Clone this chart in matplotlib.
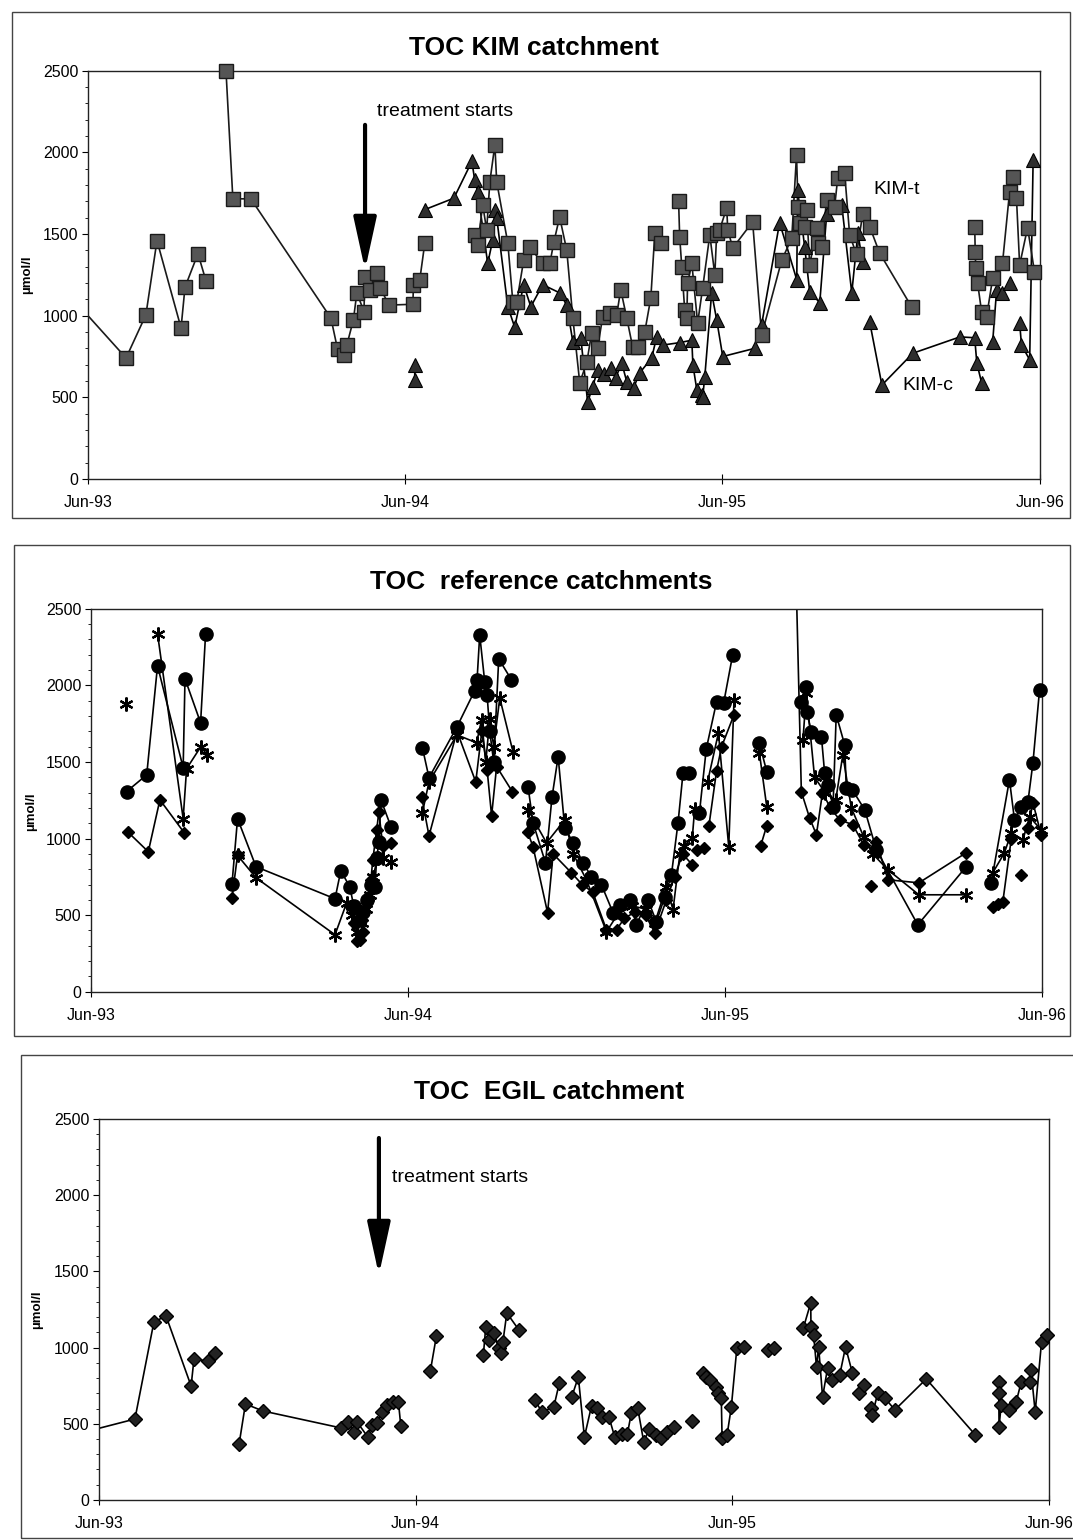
import numpy as np
import matplotlib
matplotlib.use("Agg")
import matplotlib.pyplot as plt
from matplotlib.patches import Rectangle
from matplotlib.ticker import MultipleLocator, FixedLocator

plt.rcParams["font.family"] = ["Liberation Sans", "DejaVu Sans"]

nan = np.nan

# x = months since Jun-93, y = TOC in umol/l ; (nan, nan) breaks a line
tick_pos = [0, 12, 24, 36]
tick_labels = ["Jun-93", "Jun-94", "Jun-95", "Jun-96"]

# --- KIM catchment ---
kim_t = [
    (-0.5, 1090), (1.44, 741), (2.19, 1005), (2.61, 1460), (3.52, 925), (3.67, 1175),
    (4.16, 1380), (4.46, 1215), (nan, nan),
    (5.22, 2500), (5.48, 1716), (6.16, 1716), (9.19, 985), (9.44, 795), (9.67, 757),
    (9.79, 820), (10.04, 975), (10.17, 1140), (10.44, 1025), (10.47, 1240), (10.66, 1160),
    (10.93, 1260), (11.06, 1170), (11.38, 1065), (12.29, 1070), (12.31, 1190),
    (12.55, 1220), (12.74, 1445), (nan, nan),
    (14.63, 1495), (14.74, 1434), (14.93, 1680), (15.08, 1525), (15.20, 1820),
    (15.39, 2046), (15.46, 1820), (15.88, 1445), (16.07, 1085), (16.22, 1085),
    (16.48, 1340), (16.71, 1420), (17.20, 1320), (17.47, 1320), (17.62, 1450),
    (17.84, 1605), (18.11, 1400), (18.34, 985), (18.60, 590), (18.87, 715), (19.05, 895),
    (19.28, 805), (19.47, 995), (19.74, 1015), (20.00, 1005), (20.15, 1160), (20.38, 985),
    (20.60, 810), (20.79, 810), (21.06, 900), (21.29, 1110), (21.44, 1505), (21.66, 1445),
    (nan, nan),
    (22.34, 1700), (22.38, 1485), (22.46, 1300), (22.57, 1035), (22.65, 985), (22.68, 1200),
    (22.84, 1320), (23.06, 955), (23.25, 1170), (23.52, 1495), (23.71, 1250), (23.78, 1505),
    (23.89, 1525), (24.16, 1660), (24.20, 1525), (24.39, 1415), (25.14, 1575), (25.48, 880),
    (26.24, 1340), (26.62, 1475), (26.80, 1985), (26.86, 1665), (26.92, 1570), (27.11, 1545),
    (27.18, 1650), (27.30, 1310), (27.56, 1540), (27.60, 1445), (27.75, 1420), (27.94, 1710),
    (28.24, 1665), (28.36, 1845), (28.62, 1875), (28.81, 1495), (29.07, 1375), (29.30, 1620),
    (29.57, 1545), (29.94, 1385), (31.15, 1055), (nan, nan),
    (33.54, 1545), (33.56, 1390), (33.58, 1290), (33.65, 1200), (33.80, 1025), (33.99, 995),
    (34.22, 1230), (34.59, 1320), (34.86, 1760), (34.97, 1850), (35.12, 1720), (35.24, 1310),
    (35.54, 1540), (35.80, 1270),
]

kim_c = [
    (12.36, 700), (12.36, 605), (nan, nan),
    (12.74, 1650), (13.84, 1720), (14.52, 1945), (14.63, 1830), (14.74, 1760), (15.12, 1320),
    (15.31, 1465), (15.39, 1650), (15.46, 1600), (15.88, 1055), (16.14, 930), (16.48, 1190),
    (16.75, 1055), (17.20, 1190), (17.84, 1140), (18.11, 1065), (18.34, 840), (18.64, 865),
    (18.90, 470), (19.09, 565), (19.28, 670), (19.51, 640), (19.77, 680), (19.96, 620),
    (20.19, 710), (20.38, 595), (20.64, 560), (20.87, 650), (21.32, 740), (21.51, 870),
    (21.74, 820), (22.38, 835), (22.84, 850), (22.88, 700), (23.03, 545), (23.21, 515),
    (23.25, 500), (23.33, 625), (23.59, 1140), (23.78, 975), (24.01, 750), (25.22, 800),
    (25.48, 945), (26.16, 1570), (26.81, 1220), (26.84, 1770), (27.11, 1420), (27.30, 1145),
    (27.68, 1080), (27.94, 1620), (28.51, 1680), (28.89, 1140), (29.12, 1505), (29.30, 1330),
    (nan, nan),
    (29.57, 960), (30.03, 575), (31.20, 770), (32.98, 870), (33.54, 865), (33.62, 710),
    (33.80, 590), (nan, nan),
    (34.22, 840), (34.37, 1160), (34.59, 1140), (34.86, 1200), (nan, nan),
    (35.24, 955), (35.31, 820), (35.62, 730), (35.75, 1955),
]

# --- reference catchments ---
ref_circle = [
    (1.35, 1307), (2.11, 1416), (2.52, 2128), (3.49, 1462), (3.56, 2043), (4.15, 1756),
    (4.34, 2337), (nan, nan),
    (5.34, 705), (5.55, 1130), (6.25, 816), (9.24, 607), (9.46, 790), (9.80, 685), (9.95, 560),
    (10.18, 470), (10.30, 520), (10.45, 600), (10.60, 700), (10.75, 685), (10.82, 870),
    (10.90, 980), (10.98, 1253), (11.36, 1077), (nan, nan),
    (12.55, 1593), (12.80, 1397), (13.86, 1730), (14.53, 1965), (14.62, 2037), (14.72, 2330),
    (14.91, 2023), (15.00, 1938), (15.10, 1700), (15.25, 1500), (15.44, 2173), (15.92, 2037),
    (nan, nan),
    (16.55, 1338), (16.74, 1103), (17.21, 842), (17.46, 1273), (17.69, 1534), (17.94, 1070),
    (18.26, 972), (18.63, 842), (18.95, 751), (19.33, 698), (19.77, 516), (20.02, 568),
    (20.40, 600), (20.65, 437), (21.09, 600), (21.41, 457), (21.73, 620), (21.98, 764),
    (22.23, 1103), (22.42, 1430), (22.63, 1430), (nan, nan),
    (23.04, 1168), (23.30, 1586), (23.69, 1893), (23.96, 1887), (24.30, 2200), (nan, nan),
    (25.31, 1625), (25.59, 1436), (nan, nan),
    (26.90, 1893), (27.06, 1991), (27.10, 1828), (27.28, 1697), (27.66, 1665), (27.78, 1430),
    (27.91, 1351), (28.10, 1207), (28.22, 1808), (28.54, 1612), (28.60, 1332), (28.83, 1318),
    (29.30, 1188), (29.74, 927), (31.31, 437), (33.14, 816), (nan, nan),
    (34.09, 711), (34.78, 1384), (34.97, 1123), (35.23, 1207), (35.48, 1240), (35.67, 1495),
    (35.92, 1971),
]

ref_star = [
    (1.32, 1880), (nan, nan),
    (2.52, 2337), (3.49, 1130), (3.62, 1456), (4.16, 1600), (4.40, 1547), (nan, nan),
    (5.55, 890), (6.25, 744), (9.24, 372), (9.68, 580), (9.90, 500), (10.06, 392), (10.25, 450),
    (10.40, 540), (10.55, 630), (10.68, 750), (10.85, 870), (11.05, 870), (11.36, 850),
    (nan, nan),
    (12.55, 1170), (12.80, 1370), (13.86, 1677), (14.60, 1625), (14.79, 1775), (14.95, 1500),
    (15.10, 1780), (15.25, 1600), (15.48, 1918), (15.98, 1566), (nan, nan),
    (16.55, 1188), (17.25, 972), (17.94, 1122), (18.26, 900), (18.76, 731), (19.52, 392),
    (20.00, 520), (20.50, 560), (21.00, 540), (21.35, 450), (21.79, 685), (22.04, 535),
    (22.30, 900), (22.45, 950), (22.77, 1005), (22.86, 1195), (nan, nan),
    (23.35, 1371), (23.76, 1690), (24.15, 946), (24.35, 1906), (nan, nan),
    (25.31, 1560), (25.59, 1207), (nan, nan),
    (26.96, 1645), (27.09, 1950), (27.40, 1400), (27.80, 1300), (28.20, 1250), (28.47, 1547),
    (28.79, 1201), (29.26, 1012), (29.60, 900), (30.18, 796), (31.35, 633), (33.14, 633),
    (nan, nan),
    (34.15, 777), (34.59, 907), (34.85, 1038), (35.29, 992), (35.54, 1142), (35.98, 1057),
]

ref_diamond = [
    (1.39, 1044), (2.17, 914), (2.61, 1253), (3.53, 1038), (nan, nan),
    (5.34, 613), (5.55, 893), (nan, nan),
    (9.80, 560), (9.95, 450), (10.06, 330), (10.18, 340), (10.30, 390), (10.48, 600),
    (10.60, 730), (10.67, 860), (10.82, 1057), (10.90, 1175), (11.05, 950), (11.36, 970),
    (nan, nan),
    (12.52, 1273), (12.80, 1018), (13.86, 1700), (14.57, 1370), (14.80, 1700), (15.00, 1450),
    (15.17, 1149), (15.36, 1470), (15.96, 1305), (nan, nan),
    (16.53, 1044), (16.74, 946), (17.29, 516), (17.50, 900), (18.19, 777), (18.60, 700),
    (19.00, 650), (19.52, 405), (19.90, 405), (20.20, 480), (20.60, 520), (21.00, 500),
    (21.35, 385), (21.79, 600), (22.10, 750), (22.40, 900), (22.77, 829), (nan, nan),
    (22.93, 927), (nan, nan), (23.21, 940), (nan, nan),
    (23.40, 1084), (23.69, 1443), (23.88, 1600), (24.35, 1808), (nan, nan),
    (25.36, 953), (25.59, 1084), (nan, nan),
    (26.70, 2700), (26.90, 1305), (27.21, 1136), (27.47, 1025), (27.70, 1300), (28.00, 1200),
    (28.35, 1123), (28.85, 1090), (29.26, 960), (nan, nan), (29.55, 692), (nan, nan),
    (29.74, 979), (30.18, 731), (31.35, 711), (33.14, 907), (nan, nan),
    (34.15, 555), (34.35, 570), (34.53, 588), (34.85, 1000), (nan, nan),
    (35.23, 764), (nan, nan),
    (35.48, 1070), (35.67, 1234), (35.98, 1025),
]

# --- EGIL catchment ---
egil = [
    (-0.5, 448), (1.36, 531), (2.08, 1168), (2.54, 1207), (3.49, 748), (3.60, 925),
    (4.13, 912), (4.40, 964), (nan, nan),
    (5.31, 367), (5.55, 630), (6.21, 584), (9.19, 472), (9.43, 512), (9.65, 446), (9.78, 512),
    (10.19, 413), (10.34, 492), (10.53, 505), (10.72, 577), (10.93, 623), (11.13, 643),
    (11.35, 643), (11.44, 486), (nan, nan),
    (12.56, 846), (12.79, 1076), (nan, nan),
    (14.57, 951), (14.66, 1135), (14.78, 1050), (14.97, 1095), (15.15, 1000), (15.23, 964),
    (15.31, 1037), (15.46, 1227), (15.92, 1115), (nan, nan),
    (16.52, 656), (16.79, 577), (17.24, 610), (17.45, 768), (nan, nan),
    (17.92, 676), (18.17, 807), (18.40, 413), (18.67, 617), (18.89, 604), (19.06, 545),
    (19.33, 545), (19.55, 413), (19.81, 433), (20.03, 433), (20.18, 571), (20.42, 604),
    (20.65, 381), (20.86, 466), (21.12, 427), (21.32, 407), (21.52, 446), (21.78, 479),
    (nan, nan),
    (22.47, 518), (nan, nan),
    (22.89, 833), (23.02, 807), (23.18, 787), (23.39, 741), (23.48, 702), (23.59, 669),
    (23.62, 407), (23.81, 427), (23.97, 610), (24.18, 997), (24.44, 1004), (nan, nan),
    (25.36, 984), (25.58, 997), (nan, nan),
    (26.70, 1128), (26.98, 1293), (26.99, 1135), (27.09, 1083), (27.20, 873), (27.28, 1004),
    (27.43, 676), (27.62, 866), (27.77, 787), (28.08, 820), (28.30, 1004), (28.56, 833),
    (nan, nan),
    (28.80, 702), (28.99, 755), (nan, nan),
    (29.25, 604), (29.32, 558), (29.52, 702), (29.79, 669), (30.17, 591), (31.36, 794),
    (33.22, 427), (nan, nan),
    (34.10, 774), (34.11, 702), (34.12, 479), (34.20, 623), (34.51, 591), (34.77, 643),
    (34.96, 774), (35.29, 774), (35.33, 853), (35.49, 577), (35.73, 1037), (35.95, 1083),
]


def plot_series(ax, pairs, lc, **mk):
    a = np.array(pairs, dtype=float)
    x, y = a[:, 0], a[:, 1]
    # line is clipped to the plot area, markers are not (so the 2500 square shows whole)
    ax.plot(x, y, color=lc, lw=1.2, zorder=2)
    inside = (x >= 0) & (x <= 36) & (y >= 0) & (y <= 2500)
    ax.plot(x[inside], y[inside], ls="none", clip_on=False, zorder=3, **mk)


def setup_axes(ax):
    ax.set_xlim(0, 36)
    ax.set_ylim(0, 2500)
    ax.xaxis.set_major_locator(FixedLocator(tick_pos))
    ax.set_xticklabels(tick_labels)
    ax.yaxis.set_major_locator(MultipleLocator(500))
    ax.yaxis.set_minor_locator(MultipleLocator(100))
    ax.tick_params(axis="x", direction="inout", length=7, width=0.8, labelsize=11.5, pad=8)
    ax.tick_params(axis="y", which="major", direction="out", length=4, width=0.8,
                   labelsize=11.5, pad=3)
    ax.tick_params(axis="y", which="minor", direction="out", length=2.5, width=0.6)
    for s in ax.spines.values():
        s.set_linewidth(1.0)
        s.set_color("#222222")
    ax.set_ylabel("µmol/l", fontsize=9.5, fontweight="bold")


def frame(fig, x0, y0, w, h):
    fig.add_artist(Rectangle((x0, y0), w, h, transform=fig.transFigure,
                             fill=False, lw=1.0, ec="#444444"))


def arrow(ax, x, y_top, y_tip):
    ax.annotate("", xy=(x, y_tip), xytext=(x, y_top),
                arrowprops=dict(arrowstyle="-|>,head_length=1.6,head_width=0.35",
                                lw=3, color="black", mutation_scale=20,
                                shrinkA=0, shrinkB=0))


fig = plt.figure(figsize=(10.73, 15.4), dpi=100)

# ---------------- panel 1 ----------------
frame(fig, 0.0112, 0.6636, 0.986, 0.3286)
ax1 = fig.add_axes([0.082, 0.689, 0.887, 0.265])
setup_axes(ax1)
ax1.yaxis.set_label_coords(-0.058, 0.5)
plot_series(ax1, kim_c, "black", marker="^", ms=10, mfc="#2e2e2e", mec="black", mew=0.8)
plot_series(ax1, kim_t, "#1a1a1a", marker="s", ms=10, mfc="#555555", mec="#1a1a1a", mew=1.0)
arrow(ax1, 10.48, 2169, 1280)
ax1.text(10.93, 2250, "treatment starts", fontsize=14, va="center", ha="left")
ax1.text(29.7, 1771, "KIM-t", fontsize=14, va="center", ha="left")
ax1.text(30.8, 570, "KIM-c", fontsize=14, va="center", ha="left")
fig.text(0.498, 0.9688, "TOC KIM catchment", fontsize=19, fontweight="bold",
         ha="center", va="center")

# ---------------- panel 2 ----------------
frame(fig, 0.013, 0.3273, 0.984, 0.3188)
ax2 = fig.add_axes([0.0848, 0.356, 0.886, 0.2487])
setup_axes(ax2)
ax2.yaxis.set_label_coords(-0.057, 0.47)
plot_series(ax2, ref_diamond, "black", marker="D", ms=6.5, mfc="black", mec="black")
plot_series(ax2, ref_star, "black", marker=(6, 2, 0), ms=10, mec="black", mew=1.6)
plot_series(ax2, ref_circle, "black", marker="o", ms=9.5, mfc="black", mec="black")
fig.text(0.504, 0.622, "TOC  reference catchments", fontsize=19, fontweight="bold",
         ha="center", va="center")

# ---------------- panel 3 ----------------
frame(fig, 0.0196, 0.0013, 0.99, 0.3136)
ax3 = fig.add_axes([0.0923, 0.026, 0.885, 0.2474])
setup_axes(ax3)
ax3.yaxis.set_label_coords(-0.059, 0.5)
plot_series(ax3, egil, "black", marker="D", ms=7, mfc="#222222", mec="black", mew=1.0)
arrow(ax3, 10.61, 2375, 1476)
ax3.text(11.1, 2113, "treatment starts", fontsize=14, va="center", ha="left")
fig.text(0.512, 0.291, "TOC  EGIL catchment", fontsize=19, fontweight="bold",
         ha="center", va="center")

fig.savefig("out.png", dpi=100)
